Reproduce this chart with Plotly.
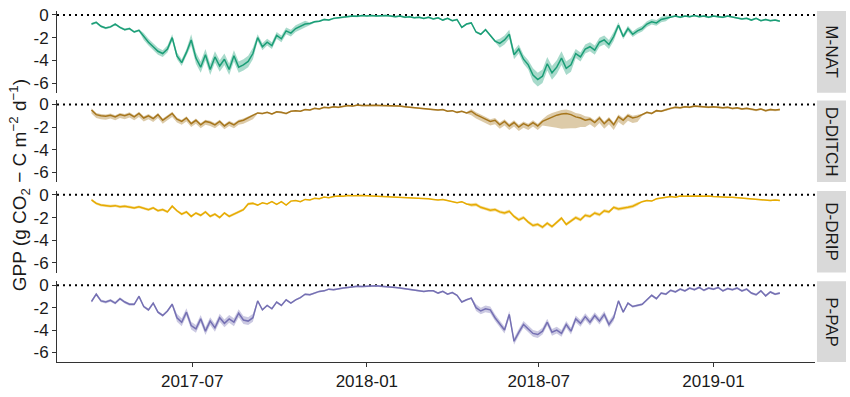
import plotly.graph_objects as go
import pandas as pd

# ---------------- data (5-day sampling) ----------------
start_date = "2017-03-17"
panel_names = ["M-NAT", "D-DITCH", "D-DRIP", "P-PAP"]
y_tick_vals = [0, -2, -4, -6]
y_tick_text = ["0", "-2", "-4", "-6"]
x_tick_vals = ["2017-07-01", "2018-01-01", "2018-07-01", "2019-01-01"]
x_tick_text = ["2017-07", "2018-01", "2018-07", "2019-01"]

mnat = [
    -0.8, -0.65, -1.0, -1.15, -1.05, -0.8, -1.1, -1.3, -1.2, -1.5,
    -1.35, -1.9, -2.4, -2.8, -3.2, -3.4, -3.0, -2.0, -3.6, -4.2,
    -3.3, -2.2, -3.8, -4.6, -3.5, -4.8, -3.7, -4.5, -3.9, -4.8,
    -3.6, -4.6, -4.4, -4.1, -3.4, -2.0, -2.8, -2.4, -2.7, -1.8,
    -2.1, -1.4, -1.6, -1.2, -1.0, -0.8, -0.75, -0.6, -0.55, -0.4,
    -0.45, -0.3, -0.25, -0.2, -0.15, -0.1, -0.12, -0.05, -0.08, -0.05,
    -0.1, -0.08, -0.05, -0.1, -0.15, -0.1, -0.2, -0.15, -0.25, -0.2,
    -0.3, -0.2, -0.35, -0.25, -0.45, -0.3, -0.5, -0.4, -1.1, -0.8,
    -0.7, -1.5, -1.7, -1.3, -1.8, -2.3, -2.5, -2.2, -1.7, -3.5,
    -3.0, -3.9, -4.4, -5.3, -5.7, -5.4, -4.3, -5.1, -4.6, -3.8,
    -4.7, -4.4, -3.4, -3.7, -3.0, -2.8, -3.1, -2.4, -2.2, -2.6,
    -1.9, -0.9, -1.9, -1.2, -1.7, -1.4, -1.2, -0.8, -0.6, -0.7,
    -0.4, -0.3, -0.15, -0.1, -0.2, -0.1, -0.15, -0.05, -0.15, -0.1,
    -0.2, -0.1, -0.15, -0.2, -0.1, -0.2, -0.25, -0.35, -0.3, -0.45,
    -0.3, -0.5, -0.4, -0.5, -0.45, -0.55,
]
mnat_spread = [
    0.1, 0.1, 0.1, 0.1, 0.1, 0.1, 0.1, 0.1, 0.1, 0.1,
    0.1, 0.3, 0.3, 0.3, 0.3, 0.3, 0.3, 0.3, 0.3, 0.3,
    0.3, 0.5, 0.5, 0.5, 0.5, 0.5, 0.5, 0.5, 0.5, 0.5,
    0.5, 0.5, 0.5, 0.5, 0.5, 0.3, 0.3, 0.3, 0.3, 0.3,
    0.3, 0.3, 0.3, 0.3, 0.3, 0.3, 0.08, 0.08, 0.08, 0.08,
    0.08, 0.08, 0.08, 0.08, 0.08, 0.08, 0.08, 0.08, 0.08, 0.08,
    0.08, 0.08, 0.08, 0.08, 0.08, 0.08, 0.08, 0.08, 0.08, 0.08,
    0.08, 0.08, 0.08, 0.08, 0.08, 0.08, 0.08, 0.08, 0.08, 0.08,
    0.08, 0.08, 0.08, 0.08, 0.08, 0.08, 0.4, 0.4, 0.4, 0.4,
    0.4, 0.4, 0.4, 0.6, 0.6, 0.6, 0.6, 0.6, 0.6, 0.6,
    0.6, 0.6, 0.4, 0.4, 0.4, 0.4, 0.4, 0.4, 0.4, 0.4,
    0.4, 0.25, 0.25, 0.25, 0.25, 0.25, 0.25, 0.25, 0.25, 0.25,
    0.25, 0.25, 0.08, 0.08, 0.08, 0.08, 0.08, 0.08, 0.08, 0.08,
    0.08, 0.08, 0.08, 0.08, 0.08, 0.08, 0.08, 0.08, 0.08, 0.08,
    0.08, 0.08, 0.08, 0.08, 0.08, 0.08,
]

ditch = [
    -0.5, -0.9, -1.0, -1.05, -0.95, -1.1, -0.9, -1.0, -0.85, -1.1,
    -0.8, -1.2, -1.0, -1.25, -0.9, -1.4, -1.1, -0.8, -1.3, -1.5,
    -1.2, -1.7, -1.4, -1.8, -1.5, -1.6, -1.8, -1.5, -1.9, -1.6,
    -1.8, -1.5, -1.4, -1.2, -1.0, -0.75, -0.8, -0.7, -0.85, -0.65,
    -0.7, -0.8, -0.6, -0.55, -0.6, -0.45, -0.5, -0.35, -0.4, -0.25,
    -0.3, -0.2, -0.25, -0.15, -0.1, -0.15, -0.05, -0.1, -0.08, -0.05,
    -0.08, -0.1, -0.1, -0.12, -0.15, -0.15, -0.2, -0.25, -0.3, -0.3,
    -0.35, -0.4, -0.45, -0.5, -0.45, -0.6, -0.55, -0.7, -0.6, -0.75,
    -0.6, -0.9, -1.1, -1.3, -1.5, -1.4, -1.8, -1.5, -1.9, -1.6,
    -2.0, -1.7, -1.9, -1.6, -1.9, -1.5, -1.3, -1.1, -0.95, -0.85,
    -0.8, -0.9, -1.1, -1.2, -1.4, -1.3, -1.6, -1.2, -1.7, -1.3,
    -1.8, -1.1, -1.4, -1.0, -1.2, -1.1, -0.9, -0.7, -0.8, -0.55,
    -0.6, -0.45, -0.35, -0.25, -0.3, -0.2, -0.25, -0.15, -0.2, -0.2,
    -0.25, -0.2, -0.25, -0.3, -0.25, -0.35, -0.3, -0.4, -0.35, -0.45,
    -0.5, -0.4, -0.55, -0.45, -0.5, -0.45,
]
ditch_lo = [
    0.3, 0.3, 0.3, 0.3, 0.3, 0.3, 0.3, 0.3, 0.3, 0.3,
    0.3, 0.3, 0.3, 0.3, 0.3, 0.3, 0.3, 0.3, 0.3, 0.3,
    0.3, 0.3, 0.3, 0.3, 0.3, 0.3, 0.3, 0.3, 0.3, 0.3,
    0.3, 0.3, 0.3, 0.3, 0.3, 0.08, 0.08, 0.08, 0.08, 0.08,
    0.08, 0.08, 0.08, 0.08, 0.08, 0.08, 0.08, 0.08, 0.08, 0.08,
    0.08, 0.08, 0.08, 0.08, 0.08, 0.08, 0.08, 0.08, 0.08, 0.08,
    0.08, 0.08, 0.08, 0.08, 0.08, 0.08, 0.08, 0.08, 0.08, 0.08,
    0.08, 0.08, 0.08, 0.08, 0.08, 0.08, 0.08, 0.08, 0.08, 0.08,
    0.35, 0.35, 0.35, 0.35, 0.35, 0.35, 0.35, 0.35, 0.35, 0.35,
    0.35, 0.35, 0.35, 0.35, 0.35, 0.35, 0.6, 0.9, 1.1, 1.3,
    1.3, 1.2, 1.0, 0.8, 0.6, 0.45, 0.45, 0.45, 0.45, 0.45,
    0.45, 0.45, 0.45, 0.45, 0.45, 0.45, 0.1, 0.1, 0.1, 0.1,
    0.1, 0.1, 0.1, 0.1, 0.1, 0.1, 0.1, 0.1, 0.1, 0.1,
    0.1, 0.1, 0.1, 0.1, 0.1, 0.1, 0.1, 0.1, 0.1, 0.1,
    0.1, 0.1, 0.1, 0.1, 0.1, 0.1,
]
ditch_hi = [
    0.15, 0.15, 0.15, 0.15, 0.15, 0.15, 0.15, 0.15, 0.15, 0.15,
    0.15, 0.15, 0.15, 0.15, 0.15, 0.15, 0.15, 0.15, 0.15, 0.15,
    0.15, 0.15, 0.15, 0.15, 0.15, 0.15, 0.15, 0.15, 0.15, 0.15,
    0.15, 0.15, 0.15, 0.15, 0.15, 0.05, 0.05, 0.05, 0.05, 0.05,
    0.05, 0.05, 0.05, 0.05, 0.05, 0.05, 0.05, 0.05, 0.05, 0.05,
    0.05, 0.05, 0.05, 0.05, 0.05, 0.05, 0.05, 0.05, 0.05, 0.05,
    0.05, 0.05, 0.05, 0.05, 0.05, 0.05, 0.05, 0.05, 0.05, 0.05,
    0.05, 0.05, 0.05, 0.05, 0.05, 0.05, 0.05, 0.05, 0.05, 0.05,
    0.2, 0.2, 0.2, 0.2, 0.2, 0.2, 0.2, 0.2, 0.2, 0.2,
    0.2, 0.2, 0.2, 0.2, 0.2, 0.2, 0.35, 0.35, 0.35, 0.35,
    0.35, 0.35, 0.35, 0.35, 0.35, 0.2, 0.2, 0.2, 0.2, 0.2,
    0.2, 0.2, 0.2, 0.2, 0.2, 0.2, 0.08, 0.08, 0.08, 0.08,
    0.08, 0.08, 0.08, 0.08, 0.08, 0.08, 0.08, 0.08, 0.08, 0.08,
    0.08, 0.08, 0.08, 0.08, 0.08, 0.08, 0.08, 0.08, 0.08, 0.08,
    0.08, 0.08, 0.08, 0.08, 0.08, 0.08,
]

drip = [
    -0.45, -0.75, -0.9, -0.95, -1.0, -0.95, -1.05, -1.0, -1.1, -1.15,
    -1.05, -1.2, -1.3, -1.15, -1.4, -1.3, -1.5, -1.0, -1.4, -1.7,
    -1.5, -1.9, -1.6, -1.8, -1.5, -1.9, -1.7, -2.0, -1.6, -1.9,
    -1.7, -1.5, -1.3, -0.8, -0.75, -0.9, -0.7, -0.8, -0.6, -0.85,
    -0.6, -0.9, -0.55, -0.5, -0.6, -0.4, -0.45, -0.3, -0.35, -0.2,
    -0.25, -0.15, -0.1, -0.12, -0.05, -0.08, -0.05, -0.05, -0.08, -0.1,
    -0.1, -0.12, -0.15, -0.15, -0.18, -0.2, -0.22, -0.25, -0.25, -0.3,
    -0.28, -0.35, -0.4, -0.45, -0.4, -0.5, -0.55, -0.7, -0.6, -0.8,
    -0.9, -0.85, -1.1, -1.2, -1.35, -1.3, -1.5, -1.6, -1.45, -1.9,
    -2.2, -2.0, -2.4, -2.7, -2.6, -2.85, -2.5, -2.8, -2.4, -2.05,
    -2.6, -2.3, -2.0, -2.2, -1.8, -1.9, -1.6, -1.75, -1.4, -1.5,
    -1.1, -1.25, -1.2, -1.1, -1.0, -0.8, -0.6, -0.5, -0.55, -0.35,
    -0.3, -0.2, -0.15, -0.2, -0.1, -0.12, -0.1, -0.08, -0.1, -0.12,
    -0.1, -0.15, -0.15, -0.18, -0.2, -0.22, -0.25, -0.3, -0.3, -0.35,
    -0.38, -0.42, -0.45, -0.5, -0.45, -0.5,
]
drip_spread = [
    0.12, 0.12, 0.12, 0.12, 0.12, 0.12, 0.12, 0.12, 0.12, 0.12,
    0.12, 0.12, 0.12, 0.12, 0.12, 0.12, 0.12, 0.12, 0.12, 0.12,
    0.12, 0.12, 0.12, 0.12, 0.12, 0.12, 0.12, 0.12, 0.12, 0.12,
    0.12, 0.12, 0.12, 0.12, 0.12, 0.05, 0.05, 0.05, 0.05, 0.05,
    0.05, 0.05, 0.05, 0.05, 0.05, 0.05, 0.05, 0.05, 0.05, 0.05,
    0.05, 0.05, 0.05, 0.05, 0.05, 0.05, 0.05, 0.05, 0.05, 0.05,
    0.05, 0.05, 0.05, 0.05, 0.05, 0.05, 0.05, 0.05, 0.05, 0.05,
    0.05, 0.05, 0.05, 0.05, 0.05, 0.05, 0.05, 0.05, 0.05, 0.05,
    0.15, 0.15, 0.15, 0.15, 0.15, 0.15, 0.15, 0.15, 0.15, 0.15,
    0.15, 0.15, 0.15, 0.15, 0.15, 0.15, 0.15, 0.15, 0.15, 0.15,
    0.15, 0.15, 0.15, 0.15, 0.15, 0.15, 0.15, 0.15, 0.15, 0.15,
    0.15, 0.15, 0.15, 0.15, 0.15, 0.15, 0.06, 0.06, 0.06, 0.06,
    0.06, 0.06, 0.06, 0.06, 0.06, 0.06, 0.06, 0.06, 0.06, 0.06,
    0.06, 0.06, 0.06, 0.06, 0.06, 0.06, 0.06, 0.06, 0.06, 0.06,
    0.06, 0.06, 0.06, 0.06, 0.06, 0.06,
]

pap = [
    -1.45, -0.8, -1.4, -1.5, -1.35, -1.6, -1.2, -1.5, -1.7, -1.7,
    -1.0, -1.9, -2.2, -1.6, -2.4, -2.7, -2.3, -1.7, -2.9, -3.3,
    -2.4, -3.6, -3.9, -3.0, -4.1, -3.2, -3.8, -2.9, -3.4, -3.0,
    -3.3, -2.5, -3.1, -3.2, -2.9, -1.4, -2.2, -1.8, -2.1, -1.5,
    -1.8, -1.3, -1.6, -1.3, -1.1, -0.8, -0.85, -0.7, -0.55, -0.5,
    -0.35, -0.4, -0.3, -0.25, -0.2, -0.15, -0.1, -0.12, -0.08, -0.1,
    -0.05, -0.1, -0.12, -0.15, -0.2, -0.25, -0.3, -0.35, -0.4, -0.45,
    -0.55, -0.5, -0.5, -0.7, -0.55, -0.8, -0.65, -0.9, -1.5, -1.3,
    -1.15, -2.0, -2.3, -2.1, -2.2, -2.9, -3.4, -4.0, -2.6, -5.0,
    -4.2, -3.5, -3.9, -4.3, -4.4, -4.1, -3.3, -4.2, -4.0, -4.3,
    -3.5, -4.1, -3.0, -3.4, -2.8, -3.3, -2.7, -3.2, -2.6, -3.5,
    -2.9, -1.4, -2.4, -1.6, -1.9, -1.8, -1.7, -1.3, -0.9, -1.2,
    -0.7, -0.8, -0.45, -0.6, -0.35, -0.5, -0.25, -0.4, -0.2, -0.45,
    -0.25, -0.35, -0.2, -0.5, -0.3, -0.4, -0.25, -0.5, -0.35, -0.7,
    -0.85, -0.5, -0.95, -0.6, -0.8, -0.7,
]
pap_spread = [
    0.12, 0.12, 0.12, 0.12, 0.12, 0.12, 0.12, 0.12, 0.12, 0.12,
    0.12, 0.12, 0.12, 0.12, 0.12, 0.12, 0.12, 0.12, 0.35, 0.35,
    0.35, 0.35, 0.35, 0.35, 0.35, 0.35, 0.35, 0.35, 0.35, 0.35,
    0.35, 0.35, 0.35, 0.35, 0.35, 0.08, 0.08, 0.08, 0.08, 0.08,
    0.08, 0.08, 0.08, 0.08, 0.08, 0.08, 0.08, 0.08, 0.08, 0.08,
    0.08, 0.08, 0.08, 0.08, 0.08, 0.08, 0.08, 0.08, 0.08, 0.08,
    0.08, 0.08, 0.08, 0.08, 0.08, 0.08, 0.08, 0.08, 0.08, 0.08,
    0.08, 0.08, 0.08, 0.08, 0.08, 0.08, 0.08, 0.08, 0.08, 0.08,
    0.08, 0.3, 0.3, 0.3, 0.3, 0.3, 0.3, 0.3, 0.3, 0.3,
    0.3, 0.3, 0.3, 0.3, 0.3, 0.3, 0.3, 0.3, 0.3, 0.3,
    0.3, 0.3, 0.3, 0.3, 0.3, 0.3, 0.3, 0.3, 0.3, 0.3,
    0.3, 0.1, 0.1, 0.1, 0.1, 0.1, 0.1, 0.1, 0.1, 0.1,
    0.1, 0.1, 0.1, 0.1, 0.1, 0.1, 0.1, 0.1, 0.1, 0.1,
    0.1, 0.1, 0.1, 0.1, 0.1, 0.1, 0.1, 0.1, 0.1, 0.1,
    0.1, 0.1, 0.1, 0.1, 0.1, 0.1,
]

# ---------------- figure ----------------
series = {
    "M-NAT": (mnat, mnat_spread, mnat_spread),
    "D-DITCH": (ditch, ditch_lo, ditch_hi),
    "D-DRIP": (drip, drip_spread, drip_spread),
    "P-PAP": (pap, pap_spread, pap_spread),
}
line_colors = {"M-NAT": "#1B9E77", "D-DITCH": "#A6761D", "D-DRIP": "#E6AB02", "P-PAP": "#7570B3"}
fill_colors = {
    "M-NAT": "rgba(27,158,119,0.38)",
    "D-DITCH": "rgba(166,118,29,0.38)",
    "D-DRIP": "rgba(230,171,2,0.38)",
    "P-PAP": "rgba(117,112,179,0.38)",
}
domains = [(0.7673, 1.0), (0.5125, 0.7452), (0.2548, 0.4875), (0.0, 0.2299)]

for name, (v, lo, hi) in series.items():
    assert len(v) == len(lo) == len(hi), (name, len(v), len(lo), len(hi))

n = len(mnat)
dates = pd.date_range(start_date, periods=n, freq="5D")

FONT = "Arial, Liberation Sans, sans-serif"
AX = "#333333"
TXT = "#1a1a1a"
fig = go.Figure()
layout = {}
shapes = []
annotations = []

for k, name in enumerate(panel_names):
    vals, lo, hi = series[name]
    ax_n = k + 1
    xa = "x" if ax_n == 1 else f"x{ax_n}"
    ya = "y" if ax_n == 1 else f"y{ax_n}"
    lower = [a - b for a, b in zip(vals, lo)]
    upper = [a + b for a, b in zip(vals, hi)]
    fig.add_trace(go.Scatter(x=dates, y=lower, mode="lines", line=dict(width=0, color=fill_colors[name]),
                             showlegend=False, hoverinfo="skip", xaxis=xa, yaxis=ya))
    fig.add_trace(go.Scatter(x=dates, y=upper, mode="lines", line=dict(width=0, color=fill_colors[name]),
                             fill="tonexty", fillcolor=fill_colors[name],
                             showlegend=False, hoverinfo="skip", xaxis=xa, yaxis=ya))
    fig.add_trace(go.Scatter(x=dates, y=vals, mode="lines", line=dict(color=line_colors[name], width=1.5),
                             showlegend=False, name=name, xaxis=xa, yaxis=ya))

    bottom = (k == len(panel_names) - 1)
    xkey = "xaxis" if ax_n == 1 else f"xaxis{ax_n}"
    ykey = "yaxis" if ax_n == 1 else f"yaxis{ax_n}"
    xdict = dict(domain=[0, 1], anchor=ya, range=["2017-02-08 16:00", "2019-04-18"],
                 showgrid=False, zeroline=False, type="date")
    if bottom:
        xdict.update(showline=True, linecolor=AX, linewidth=1, ticks="outside", ticklen=4,
                     tickcolor=AX, tickvals=x_tick_vals, ticktext=x_tick_text,
                     tickfont=dict(family=FONT, size=17, color=TXT))
    else:
        xdict.update(showline=False, showticklabels=False, ticks="", matches="x4")
    layout[xkey] = xdict
    layout[ykey] = dict(domain=list(domains[k]), anchor=xa, range=[-6.85, 0.35],
                        showgrid=False, zeroline=False, showline=True, linecolor=AX, linewidth=1,
                        ticks="outside", ticklen=4, tickcolor=AX,
                        tickvals=y_tick_vals, ticktext=y_tick_text,
                        tickfont=dict(family=FONT, size=17, color=TXT))
    # dotted zero line
    shapes.append(dict(type="line", xref="paper", x0=0, x1=1, yref=ya, y0=0, y1=0,
                       line=dict(color="black", width=2, dash="2px,4px"), layer="below"))
    # facet strip
    shapes.append(dict(type="rect", xref="paper", x0=1.0026, x1=1.0409, yref="paper",
                       y0=domains[k][0], y1=domains[k][1], fillcolor="#D9D9D9", line=dict(width=0)))
    annotations.append(dict(text=name, xref="paper", yref="paper", x=1.0218,
                            y=(domains[k][0] + domains[k][1]) / 2, textangle=90, showarrow=False,
                            xanchor="center", yanchor="middle",
                            font=dict(family=FONT, size=17, color=TXT)))

annotations.append(dict(text="GPP (g CO<sub>2</sub> \u2212 C m<sup>\u22122</sup> d<sup>\u22121</sup>)",
                        xref="paper", yref="paper", x=-0.05, y=0.504, textangle=-90,
                        showarrow=False, xanchor="center", yanchor="middle",
                        font=dict(family=FONT, size=19, color=TXT)))

fig.update_layout(width=850, height=397, margin=dict(l=57, r=35, t=6, b=30),
                  paper_bgcolor="white", plot_bgcolor="white", showlegend=False,
                  shapes=shapes, annotations=annotations, **layout)

fig.write_html("out.html", config={"displayModeBar": False},
               post_script="document.body.style.margin='0';document.body.style.padding='0';"
                           "document.documentElement.style.overflow='hidden';")
